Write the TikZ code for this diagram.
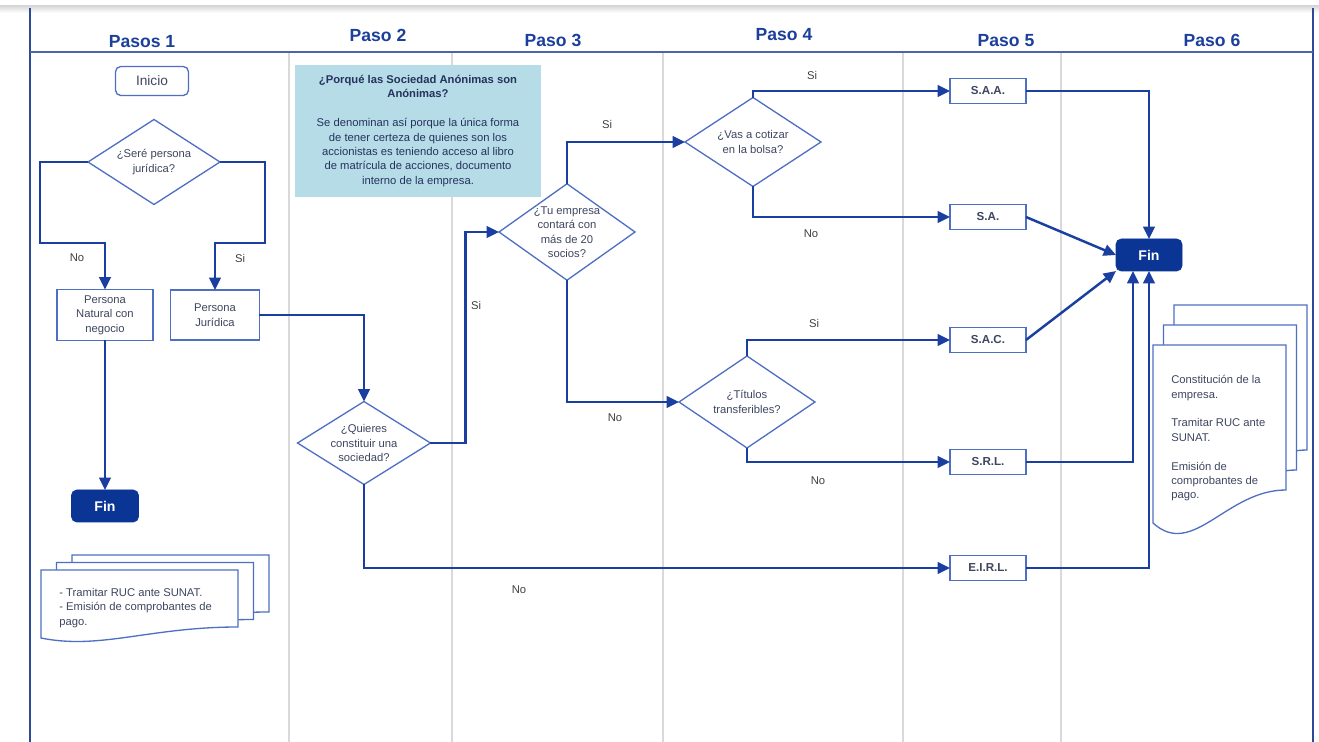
\documentclass[tikz,border=0pt]{standalone}
\usepackage{fontspec}
\setmainfont{Liberation Sans}
\usetikzlibrary{shapes.geometric,arrows.meta}

\definecolor{flowblue}{HTML}{1A3FA0}
\definecolor{edgeblue}{HTML}{4E6FC2}
\definecolor{finblue}{HTML}{0B3595}
\definecolor{headblue}{HTML}{1C3F9C}
\definecolor{frameblue}{HTML}{2C4A98}
\definecolor{txtgray}{HTML}{3E4660}
\definecolor{infofill}{HTML}{B6DDE7}
\definecolor{infotxt}{HTML}{26315E}

% stack of three pages with a wavy foot: x y w h dx dy wave
\newcommand\docstack[7]{%
  \foreach \k in {2,1,0}
    \draw[docline] ({#1+\k*#5},{#2-\k*#6}) -- ++(#3,0) -- ++(0,#4)
      .. controls +(-0.45*#3,0) and +(0.3*#3,1.1*#7) .. ++(-#3,#7) -- cycle;
}

\begin{document}
\begin{tikzpicture}[
    x=0.02cm, y=-0.02cm,
    txt/.style={font=\fontsize{6.4}{8.2}\selectfont, text=txtgray},
    box/.style={txt, draw=edgeblue, line width=0.75pt, fill=white, align=center, inner sep=0pt, outer sep=0pt},
    decide/.style={box, diamond, inner sep=-3pt},
    soc/.style={box, font=\fontsize{6.6}{8}\selectfont\bfseries, minimum width=1.52cm, minimum height=0.5cm},
    finbox/.style={draw=finblue, fill=finblue, rounded corners=3pt, text=white, font=\fontsize{8}{9}\selectfont\bfseries, minimum width=1.34cm, minimum height=0.64cm, outer sep=0pt},
    lbl/.style={txt, text=black!75, inner sep=1pt},
    lane/.style={draw=gray!30, line width=0.6pt},
    head/.style={font=\fontsize{10}{12}\selectfont\bfseries, text=headblue},
    flow/.style={draw=flowblue, line width=1.4pt, -{Triangle[length=7pt,width=6.5pt]}},
    docline/.style={draw=edgeblue, line width=0.75pt, fill=white},
    doctext/.style={txt, align=left, inner sep=0pt, anchor=north west}
]
\useasboundingbox (0,0) rectangle (1319,742);
\fill[white] (0,0) rectangle (1319,742);
\shade[top color=gray!30, bottom color=white] (0,6) rectangle (1319,13);

% lanes and frame
\foreach \lx in {289,452,663,903,1061}
  \draw[lane] (\lx,52) -- (\lx,742);
\draw[frameblue, line width=1.2pt] (30,8) -- (30,742);
\draw[frameblue, line width=1.2pt] (1313,8) -- (1313,742);
\draw[frameblue!85, line width=1pt] (30,52) -- (1313,52);

% headers
\node[head] (h1) at (142,42) {Pasos 1};
\node[head] (h2) at (378,35) {Paso 2};
\node[head] (h3) at (553,40) {Paso 3};
\node[head] (h4) at (784,35) {Paso 4};
\node[head] (h5) at (1006,41) {Paso 5};
\node[head] (h6) at (1212,40) {Paso 6};

% info box
\node[txt, fill=infofill, text=infotxt, align=center, inner sep=0pt, minimum width=4.92cm, minimum height=2.66cm] (info) at (418,131)
  {\textbf{¿Porqué las Sociedad Anónimas son}\\\textbf{Anónimas?}\\[8.2pt]
   Se denominan así porque la única forma\\de tener certeza de quienes son los\\accionistas es teniendo acceso al libro\\de matrícula de acciones, documento\\interno de la empresa.};

% Paso 1
\node[box, rounded corners=3pt, minimum width=1.46cm, minimum height=0.58cm, font=\fontsize{7.8}{9}\selectfont] (inicio) at (152,81) {Inicio};
\node[decide, minimum width=2.64cm, minimum height=1.7cm] (sere) at (154,162) {¿Seré persona\\jurídica?};
\node[box, minimum width=1.92cm, minimum height=1.02cm] (natural) at (105,315) {Persona\\Natural con\\negocio};
\node[box, minimum width=1.78cm, minimum height=1.0cm] (juridica) at (215,315) {Persona\\Jurídica};
\node[finbox] (finA) at (105,506) {Fin};

% Paso 2 / 3 / 4
\node[decide, minimum width=2.66cm, minimum height=1.66cm] (quiere) at (364,443) {¿Quieres\\constituir una\\sociedad?};
\node[decide, minimum width=2.72cm, minimum height=1.8cm] (empresa) at (567,232) {¿Tu empresa\\contará con\\más de 20\\socios?};
\node[decide, minimum width=2.72cm, minimum height=1.78cm] (cotizar) at (753,142) {¿Vas a cotizar\\en la bolsa?};
\node[decide, minimum width=2.72cm, minimum height=1.84cm] (titulos) at (747,402) {¿Títulos\\transferibles?};

% Paso 5
\node[soc] (saa) at (988,91) {S.A.A.};
\node[soc] (sa) at (988,217) {S.A.};
\node[soc] (sac) at (988,340) {S.A.C.};
\node[soc] (srl) at (988,462) {S.R.L.};
\node[soc] (eirl) at (988,568) {E.I.R.L.};

% Paso 6
\node[finbox, minimum width=1.32cm] (fin) at (1149,255) {Fin};

% documents
\docstack{41}{570}{197}{57}{15.5}{7.5}{11}
\node[doctext] (docA) at (59,588) {- Tramitar RUC ante SUNAT.\\- Emisión de comprobantes de\\pago.};
\docstack{1153}{345}{133}{145}{10.5}{20}{33}
\node[doctext] (docB) at (1171,375) {Constitución de la\\empresa.\\[8.2pt]Tramitar RUC ante\\SUNAT.\\[8.2pt]Emisión de\\comprobantes de\\pago.};

% connectors
\draw[flow] (sere.west) -| (40,243) -| (natural.north);
\draw[flow] (sere.east) -| (265,243) -| (juridica.north);
\draw[flow] (natural.south) -- (finA.north);
\draw[flow] (juridica.east) -| (quiere.north);
\draw[flow] (quiere.east) -- ++(35,0) |- (empresa.west);
\draw[flow] (quiere.south) |- (eirl.west);
\draw[flow] (empresa.north) |- (cotizar.west);
\draw[flow] (empresa.south) |- (titulos.west);
\draw[flow] (cotizar.north) |- (saa.west);
\draw[flow] (cotizar.south) |- (sa.west);
\draw[flow] (titulos.north) |- (sac.west);
\draw[flow] (titulos.south) |- (srl.west);
\draw[flow] (saa.east) -| (fin.north);
\draw[flow] (sa.east) -- (fin.west);
\draw[flow] (sac.east) -- (fin.south west);
\draw[flow] (srl.east) -| ([xshift=-0.32cm]fin.south);
\draw[flow] (eirl.east) -| (fin.south);

% labels
\node[lbl] (noA) at (77,258) {No};
\node[lbl] (siA) at (240,258) {Si};
\node[lbl] (siB) at (476,305) {Si};
\node[lbl] (noB) at (519,590) {No};
\node[lbl] (siC) at (607,124) {Si};
\node[lbl] (noC) at (615,418) {No};
\node[lbl] (siD) at (812,75) {Si};
\node[lbl] (noD) at (811,234) {No};
\node[lbl] (siE) at (814,323) {Si};
\node[lbl] (noE) at (818,481) {No};
\end{tikzpicture}
\end{document}
